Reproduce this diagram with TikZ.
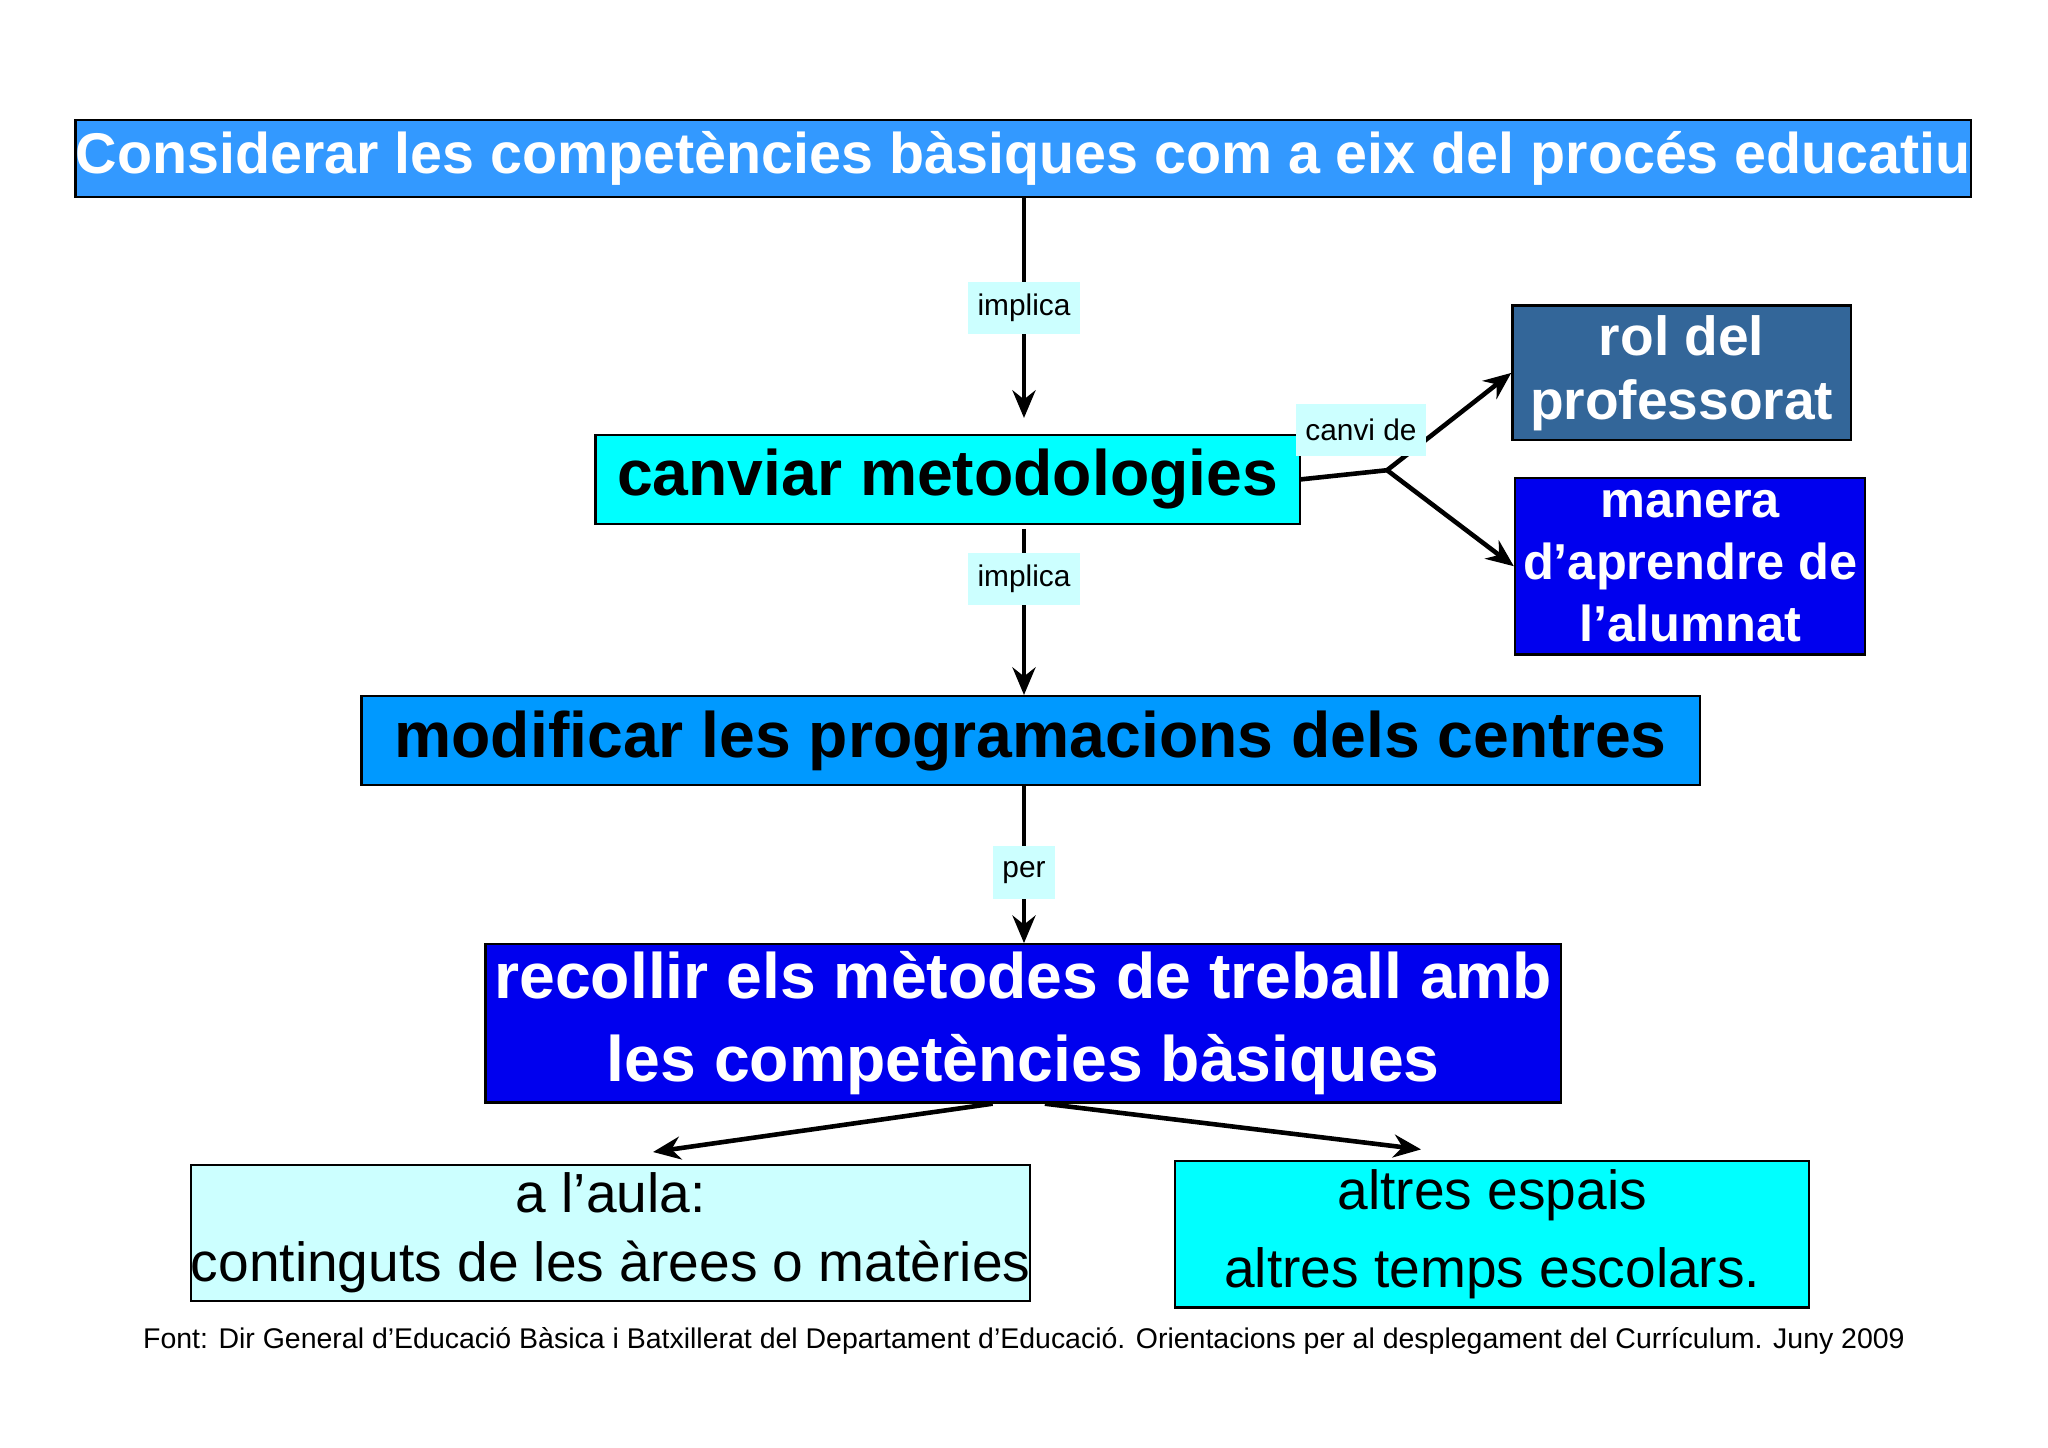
\documentclass[tikz,border=0pt]{standalone}
\usepackage{fontspec}
\setmainfont{Liberation Sans}
\usetikzlibrary{arrows.meta}
\definecolor{c1}{HTML}{3399FF}
\definecolor{c2}{HTML}{0099FF}
\definecolor{cy}{HTML}{00FFFF}
\definecolor{lc}{HTML}{CCFFFF}
\definecolor{bl}{HTML}{0000EE}
\definecolor{rb}{HTML}{336699}
\begin{document}
\begin{tikzpicture}[x=0.01cm,y=-0.01cm,
 box/.style={draw=black,line width=0.5pt,inner sep=0pt,align=center},
 lab/.style={fill=lc,font=\fontsize{6.5}{8}\selectfont,inner sep=2pt,minimum height=0.4cm},
 arr/.style={line width=1pt,-{Stealth[length=6pt,width=5pt]}}]
\useasboundingbox (0,0) rectangle (1568,1108);
\node[box,fill=c1,text=white,minimum width=13.39cm,minimum height=0.59cm,font=\fontsize{12.5}{14}\selectfont\bfseries] (top) at (783.5,121.5) {Considerar les competències bàsiques com a eix del procés educatiu};
\node[box,fill=cy,minimum width=5.39cm,minimum height=0.68cm,font=\fontsize{14}{16}\selectfont\bfseries] (can) at (725.5,367) {canviar metodologies};
\node[box,fill=rb,text=white,minimum width=2.59cm,minimum height=1.03cm,font=\fontsize{12}{14}\selectfont\bfseries] (rol) at (1287.5,285.5) {rol del\\professorat};
\node[box,fill=bl,text=white,minimum width=2.68cm,minimum height=1.35cm,font=\fontsize{11}{13.5}\selectfont\bfseries] (man) at (1294,433.5) {manera\\d’aprendre de\\l’alumnat};
\node[box,fill=c2,minimum width=10.24cm,minimum height=0.68cm,font=\fontsize{14}{16}\selectfont\bfseries] (mod) at (789,567) {modificar les programacions dels centres};
\node[box,fill=bl,text=white,minimum width=8.23cm,minimum height=1.21cm,font=\fontsize{14}{18}\selectfont\bfseries] (rec) at (783.5,783.5) {recollir els mètodes de treball amb\\les competències bàsiques};
\node[box,fill=lc,minimum width=6.13cm,minimum height=1.04cm,font=\fontsize{12}{15}\selectfont] (aul) at (467.5,944) {a l’aula:\\continguts de les àrees o matèries};
\node[box,fill=cy,minimum width=4.85cm,minimum height=1.12cm,font=\fontsize{12}{17}\selectfont] (alt) at (1142.5,945) {altres espais\\altres temps escolars.};
\node[font=\fontsize{6.2}{7}\selectfont] (ft) at (784,1027) {Font: Dir General d’Educació Bàsica i Batxillerat del Departament d’Educació. Orientacions per al desplegament del Currículum. Juny 2009};
\coordinate (j) at (1062,360);
\draw[arr] (top.south -| 784,0) -- (784,320) node[lab,pos=0.5] {implica};
\draw[arr] (784,405) -- (mod.north -| 784,0) node[lab,pos=0.3] {implica};
\draw[arr] (mod.south -| 784,0) -- (rec.north -| 784,0) node[lab,pos=0.55] {per};
\draw[line width=1pt] (can.east) -- (j);
\draw[arr] (j) -- (rol.west);
\draw[arr] (j) -- (man.west);
\node[lab] at (1042,329) {canvi de};
\draw[arr] (760,845) -- (500,882);
\draw[arr] (800,845) -- (1088,880);
\end{tikzpicture}
\end{document}
